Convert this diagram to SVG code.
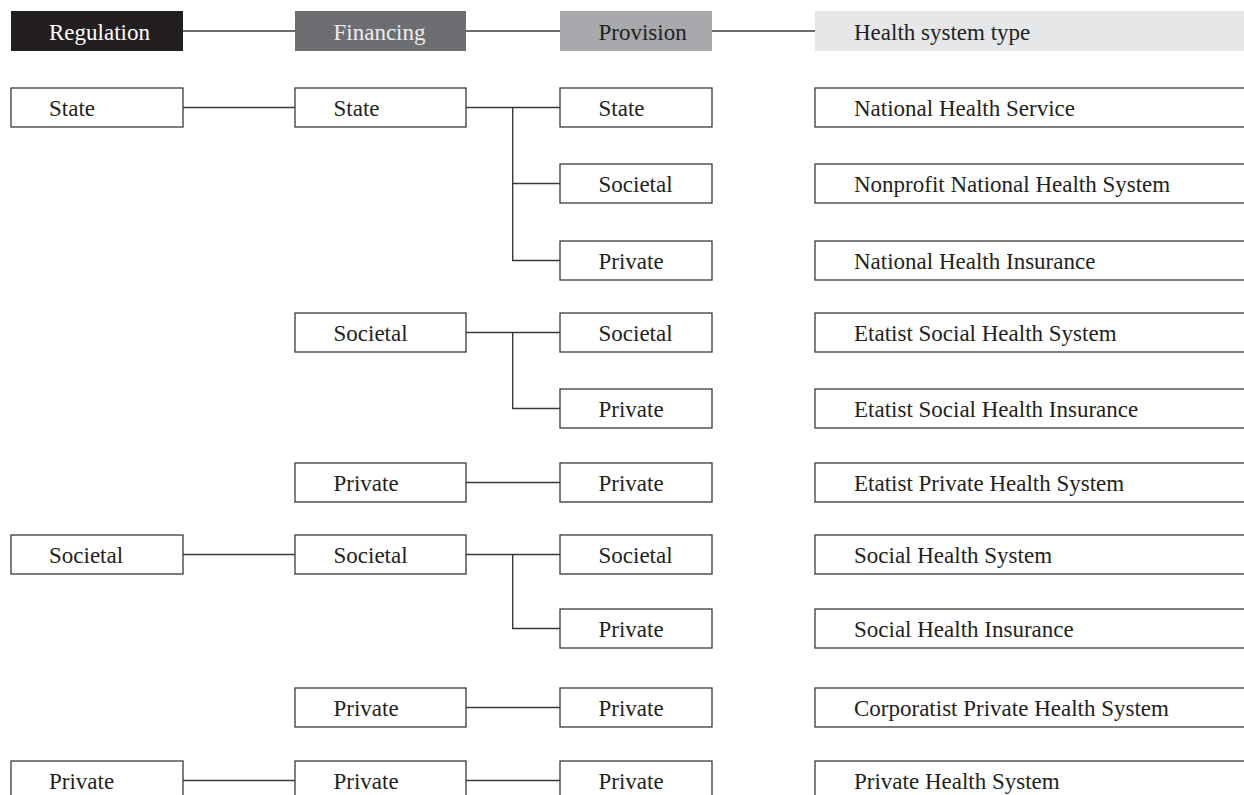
<svg xmlns="http://www.w3.org/2000/svg" width="1244" height="795" viewBox="0 0 1244 795">
  <style>
    .box { fill: #ffffff; stroke: #3a3a3a; stroke-width: 1.3; }
    .t { font-family: "Liberation Serif", "Times New Roman", serif; font-size: 23px; fill: #231f20; }
    .conn { stroke: #3a3a3a; stroke-width: 1.4; fill: none; }
  </style>
  <rect x="0" y="0" width="1244" height="795" fill="#ffffff"/>

  <g id="connectors">
    <!-- header -->
    <line class="conn" x1="183" y1="31" x2="295" y2="31"/>
    <line class="conn" x1="466" y1="31" x2="560" y2="31"/>
    <line class="conn" x1="712" y1="31" x2="815" y2="31"/>
    <!-- State regulation -->
    <line class="conn" x1="183" y1="107.5" x2="295" y2="107.5"/>
    <path class="conn" d="M466,107.5 H560 M512.7,107.5 V260.5 H560 M512.7,183.5 H560"/>
    <path class="conn" d="M466,332.5 H560 M512.7,332.5 V408.5 H560"/>
    <line class="conn" x1="466" y1="482.5" x2="560" y2="482.5"/>
    <!-- Societal regulation -->
    <line class="conn" x1="183" y1="554.5" x2="295" y2="554.5"/>
    <path class="conn" d="M466,554.5 H560 M512.7,554.5 V628.5 H560"/>
    <line class="conn" x1="466" y1="707.5" x2="560" y2="707.5"/>
    <!-- Private regulation -->
    <line class="conn" x1="183" y1="780.5" x2="295" y2="780.5"/>
    <line class="conn" x1="466" y1="780.5" x2="560" y2="780.5"/>
  </g>

  <g id="header-regulation">
    <rect x="11" y="11" width="172" height="40" fill="#231f20"/>
    <text class="t" x="49" y="40" fill="#ffffff" style="fill:#ffffff">Regulation</text>
  </g>
  <g id="header-financing">
    <rect x="295" y="11" width="171" height="40" fill="#6d6e71"/>
    <text class="t" x="333.5" y="40" style="fill:#eeeeee">Financing</text>
  </g>
  <g id="header-provision">
    <rect x="560" y="11" width="152" height="40" fill="#a7a9ac"/>
    <text class="t" x="598.5" y="40">Provision</text>
  </g>
  <g id="header-type">
    <rect x="815" y="11" width="440" height="40" fill="#e6e7e8"/>
    <text class="t" x="854" y="40">Health system type</text>
  </g>

  <!-- Regulation column -->
  <g id="reg-state"><rect class="box" x="11" y="88" width="172" height="39"/><text class="t" x="49" y="116">State</text></g>
  <g id="reg-societal"><rect class="box" x="11" y="535" width="172" height="39"/><text class="t" x="49" y="563">Societal</text></g>
  <g id="reg-private"><rect class="box" x="11" y="761" width="172" height="39"/><text class="t" x="49" y="789">Private</text></g>

  <!-- Financing column -->
  <g id="fin-state"><rect class="box" x="295" y="88" width="171" height="39"/><text class="t" x="333.5" y="116">State</text></g>
  <g id="fin-societal-1"><rect class="box" x="295" y="313" width="171" height="39"/><text class="t" x="333.5" y="341">Societal</text></g>
  <g id="fin-private-1"><rect class="box" x="295" y="463" width="171" height="39"/><text class="t" x="333.5" y="491">Private</text></g>
  <g id="fin-societal-2"><rect class="box" x="295" y="535" width="171" height="39"/><text class="t" x="333.5" y="563">Societal</text></g>
  <g id="fin-private-2"><rect class="box" x="295" y="688" width="171" height="39"/><text class="t" x="333.5" y="716">Private</text></g>
  <g id="fin-private-3"><rect class="box" x="295" y="761" width="171" height="39"/><text class="t" x="333.5" y="789">Private</text></g>

  <!-- Provision column -->
  <g id="prov-1"><rect class="box" x="560" y="88" width="152" height="39"/><text class="t" x="598.5" y="116">State</text></g>
  <g id="prov-2"><rect class="box" x="560" y="164" width="152" height="39"/><text class="t" x="598.5" y="192">Societal</text></g>
  <g id="prov-3"><rect class="box" x="560" y="241" width="152" height="39"/><text class="t" x="598.5" y="269">Private</text></g>
  <g id="prov-4"><rect class="box" x="560" y="313" width="152" height="39"/><text class="t" x="598.5" y="341">Societal</text></g>
  <g id="prov-5"><rect class="box" x="560" y="389" width="152" height="39"/><text class="t" x="598.5" y="417">Private</text></g>
  <g id="prov-6"><rect class="box" x="560" y="463" width="152" height="39"/><text class="t" x="598.5" y="491">Private</text></g>
  <g id="prov-7"><rect class="box" x="560" y="535" width="152" height="39"/><text class="t" x="598.5" y="563">Societal</text></g>
  <g id="prov-8"><rect class="box" x="560" y="609" width="152" height="39"/><text class="t" x="598.5" y="637">Private</text></g>
  <g id="prov-9"><rect class="box" x="560" y="688" width="152" height="39"/><text class="t" x="598.5" y="716">Private</text></g>
  <g id="prov-10"><rect class="box" x="560" y="761" width="152" height="39"/><text class="t" x="598.5" y="789">Private</text></g>

  <!-- Health system type column -->
  <g id="type-1"><rect class="box" x="815" y="88" width="440" height="39"/><text class="t" x="854" y="116">National Health Service</text></g>
  <g id="type-2"><rect class="box" x="815" y="164" width="440" height="39"/><text class="t" x="854" y="192">Nonprofit National Health System</text></g>
  <g id="type-3"><rect class="box" x="815" y="241" width="440" height="39"/><text class="t" x="854" y="269">National Health Insurance</text></g>
  <g id="type-4"><rect class="box" x="815" y="313" width="440" height="39"/><text class="t" x="854" y="341">Etatist Social Health System</text></g>
  <g id="type-5"><rect class="box" x="815" y="389" width="440" height="39"/><text class="t" x="854" y="417">Etatist Social Health Insurance</text></g>
  <g id="type-6"><rect class="box" x="815" y="463" width="440" height="39"/><text class="t" x="854" y="491">Etatist Private Health System</text></g>
  <g id="type-7"><rect class="box" x="815" y="535" width="440" height="39"/><text class="t" x="854" y="563">Social Health System</text></g>
  <g id="type-8"><rect class="box" x="815" y="609" width="440" height="39"/><text class="t" x="854" y="637">Social Health Insurance</text></g>
  <g id="type-9"><rect class="box" x="815" y="688" width="440" height="39"/><text class="t" x="854" y="716">Corporatist Private Health System</text></g>
  <g id="type-10"><rect class="box" x="815" y="761" width="440" height="39"/><text class="t" x="854" y="789">Private Health System</text></g>
</svg>
